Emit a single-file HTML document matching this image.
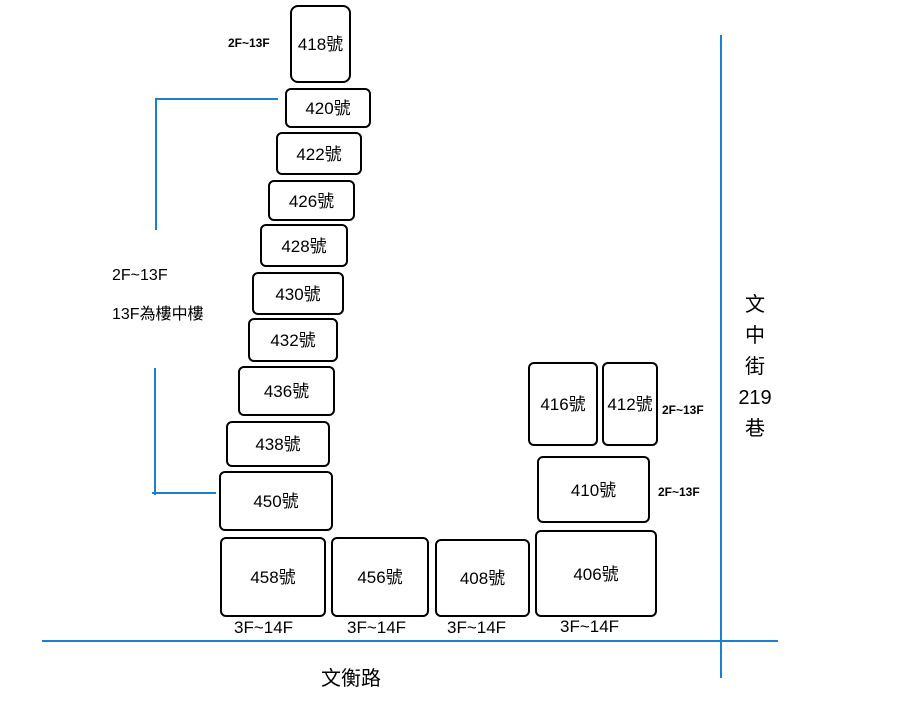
<!DOCTYPE html>
<html><head><meta charset="utf-8"><style>
body{margin:0;background:#fff;}
.w{position:relative;width:900px;height:715px;overflow:hidden;font-family:"Liberation Sans","Noto Sans CJK TC",sans-serif;color:#000;}
.b{position:absolute;border:2px solid #000;border-radius:6px;box-sizing:border-box;display:flex;align-items:center;justify-content:center;font-size:17px;padding-bottom:3px;}
.t{position:absolute;white-space:nowrap;}
.s{font-size:12px;font-weight:bold;}
.l{position:absolute;background:#1a7fd0;}
</style></head><body><div class="w">
<div class="b" style="left:290px;top:5px;width:61px;height:78px;border-radius:8px">418號</div>
<div class="b" style="left:285px;top:88px;width:86px;height:40px">420號</div>
<div class="b" style="left:276px;top:132px;width:86px;height:43px">422號</div>
<div class="b" style="left:268px;top:180px;width:87px;height:41px">426號</div>
<div class="b" style="left:260px;top:224px;width:88px;height:43px">428號</div>
<div class="b" style="left:252px;top:272px;width:92px;height:43px">430號</div>
<div class="b" style="left:248px;top:318px;width:90px;height:44px">432號</div>
<div class="b" style="left:238px;top:366px;width:97px;height:50px">436號</div>
<div class="b" style="left:226px;top:421px;width:104px;height:46px">438號</div>
<div class="b" style="left:219px;top:471px;width:114px;height:60px">450號</div>
<div class="b" style="left:220px;top:537px;width:106px;height:80px">458號</div>
<div class="b" style="left:331px;top:537px;width:98px;height:80px">456號</div>
<div class="b" style="left:435px;top:539px;width:95px;height:78px">408號</div>
<div class="b" style="left:535px;top:530px;width:122px;height:87px">406號</div>
<div class="b" style="left:537px;top:456px;width:113px;height:67px">410號</div>
<div class="b" style="left:528px;top:362px;width:70px;height:84px">416號</div>
<div class="b" style="left:602px;top:362px;width:56px;height:84px">412號</div>
<div class="t s" style="left:228px;top:36px">2F~13F</div>
<div class="t s" style="left:662px;top:403px">2F~13F</div>
<div class="t s" style="left:658px;top:485px">2F~13F</div>
<div class="t" style="left:112px;top:267px;font-size:16px">2F~13F</div>
<div class="t" style="left:112px;top:300px;font-size:16px">13F為樓中樓</div>
<div class="t" style="left:234px;top:618px;font-size:17px">3F~14F</div>
<div class="t" style="left:347px;top:618px;font-size:17px">3F~14F</div>
<div class="t" style="left:447px;top:618px;font-size:17px">3F~14F</div>
<div class="t" style="left:560px;top:617px;font-size:17px">3F~14F</div>
<div class="t" style="left:321px;top:662px;font-size:20px">文衡路</div>
<div class="t" style="left:735px;top:290px;font-size:20px;line-height:31px;text-align:center;width:40px">文<br>中<br>街<br>219<br>巷</div>
<div class="l" style="left:42px;top:640px;width:736px;height:2px"></div>
<div class="l" style="left:720px;top:35px;width:2px;height:643px"></div>
<div class="l" style="left:155px;top:98px;width:2px;height:132px"></div>
<div class="l" style="left:155px;top:98px;width:123px;height:2px"></div>
<div class="l" style="left:154px;top:368px;width:2px;height:127px"></div>
<div class="l" style="left:152px;top:492px;width:64px;height:2px"></div>
</div></body></html>
